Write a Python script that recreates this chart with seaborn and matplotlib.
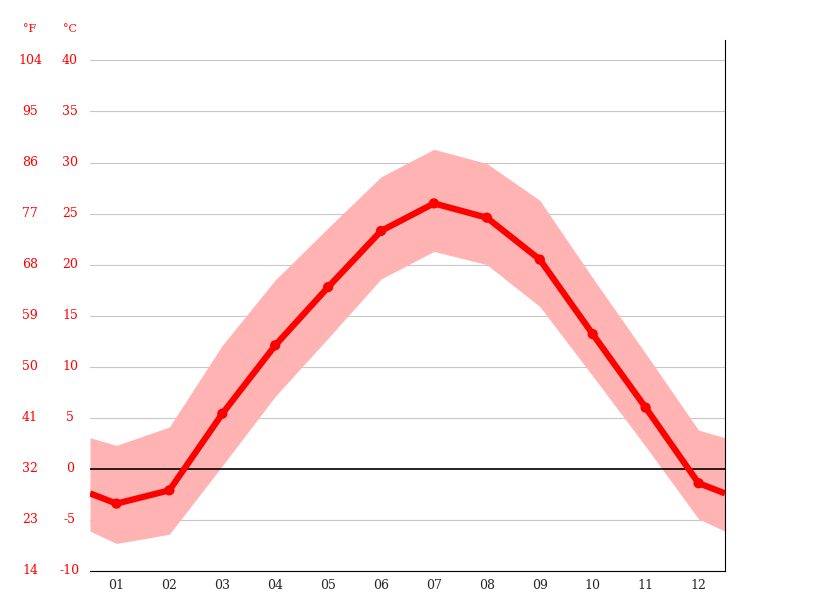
import numpy as np
import pandas as pd
import seaborn as sns
from matplotlib import pyplot as plt
from matplotlib import transforms

months = ["01", "02", "03", "04", "05", "06", "07", "08", "09", "10", "11", "12"]
temp_mean = [-3.4, -2.1, 5.4, 12.1, 17.8, 23.3, 26.0, 24.6, 20.5, 13.2, 6.0, -1.4]
temp_max = [2.3, 4.1, 12.1, 18.5, 23.6, 28.6, 31.3, 29.9, 26.3, 18.7, 11.3, 3.8]
temp_min = [-7.3, -6.4, 0.3, 7.1, 12.8, 18.6, 21.3, 20.0, 15.9, 9.1, 2.2, -4.9]
c_ticks = [-10, -5, 0, 5, 10, 15, 20, 25, 30, 35, 40]
f_labels = ["14", "23", "32", "41", "50", "59", "68", "77", "86", "95", "104"]

sns.set_style("white")
plt.rcParams["font.family"] = ["DejaVu Serif"]

x = np.arange(1, 13)
# wrap the year at both edges: half a month before Jan / after Dec
def wrap(v):
    edge = (v[0] + v[-1]) / 2
    return [edge] + list(v) + [edge]

xw = [0.5] + list(x) + [12.5]
df = pd.DataFrame({"x": x, "t": temp_mean})

fig = plt.figure(figsize=(8.15, 6.11), dpi=100)
ax = fig.add_axes([90 / 815, 40 / 611, 635 / 815, 531 / 611])

ax.fill_between(xw, wrap(temp_min), wrap(temp_max), color="#ffb3b3", lw=0, zorder=1)
for c in c_ticks:
    if c != 0:
        ax.axhline(c, color="#c8c8c8", lw=0.8, zorder=0)
ax.axhline(0, color="black", lw=1.2, zorder=2)
ax.plot(xw, wrap(temp_mean), color="#ff0000", lw=4.5, zorder=3, solid_capstyle="butt")
sns.scatterplot(data=df, x="x", y="t", ax=ax, color="#ff0000", s=55, edgecolor="none", zorder=4)

ax.set_xlim(0.5, 12.5)
ax.set_ylim(-10, 42)
ax.set_xlabel("")
ax.set_ylabel("")

ax.set_xticks(np.arange(0.5, 13, 1))
ax.set_xticklabels([])
ax.set_xticks(x, minor=True)
ax.set_xticklabels(months, minor=True, fontsize=9)
ax.tick_params(axis="x", which="major", length=5, color="black", direction="out")
ax.tick_params(axis="x", which="minor", length=0, pad=6)

ax.set_yticks(c_ticks)
ax.set_yticklabels([])
ax.tick_params(axis="y", length=0)

trans = transforms.blended_transform_factory(ax.transAxes, ax.transData)
xc = -20 / 635
xf = -60 / 635
for c, f in zip(c_ticks, f_labels):
    ax.text(xc, c, str(c), color="#ff0000", fontsize=9, ha="center", va="center",
            transform=trans, clip_on=False)
    ax.text(xf, c, f, color="#ff0000", fontsize=9, ha="center", va="center",
            transform=trans, clip_on=False)
ax.text(xf, 43.1, "°F", color="#ff0000", fontsize=8, ha="center", va="center",
        transform=trans, clip_on=False)
ax.text(xc, 43.1, "°C", color="#ff0000", fontsize=8, ha="center", va="center",
        transform=trans, clip_on=False)

for s in ["top", "left"]:
    ax.spines[s].set_visible(False)
ax.spines["right"].set_color("black")
ax.spines["bottom"].set_color("black")

fig.savefig("out.png", dpi=100)
